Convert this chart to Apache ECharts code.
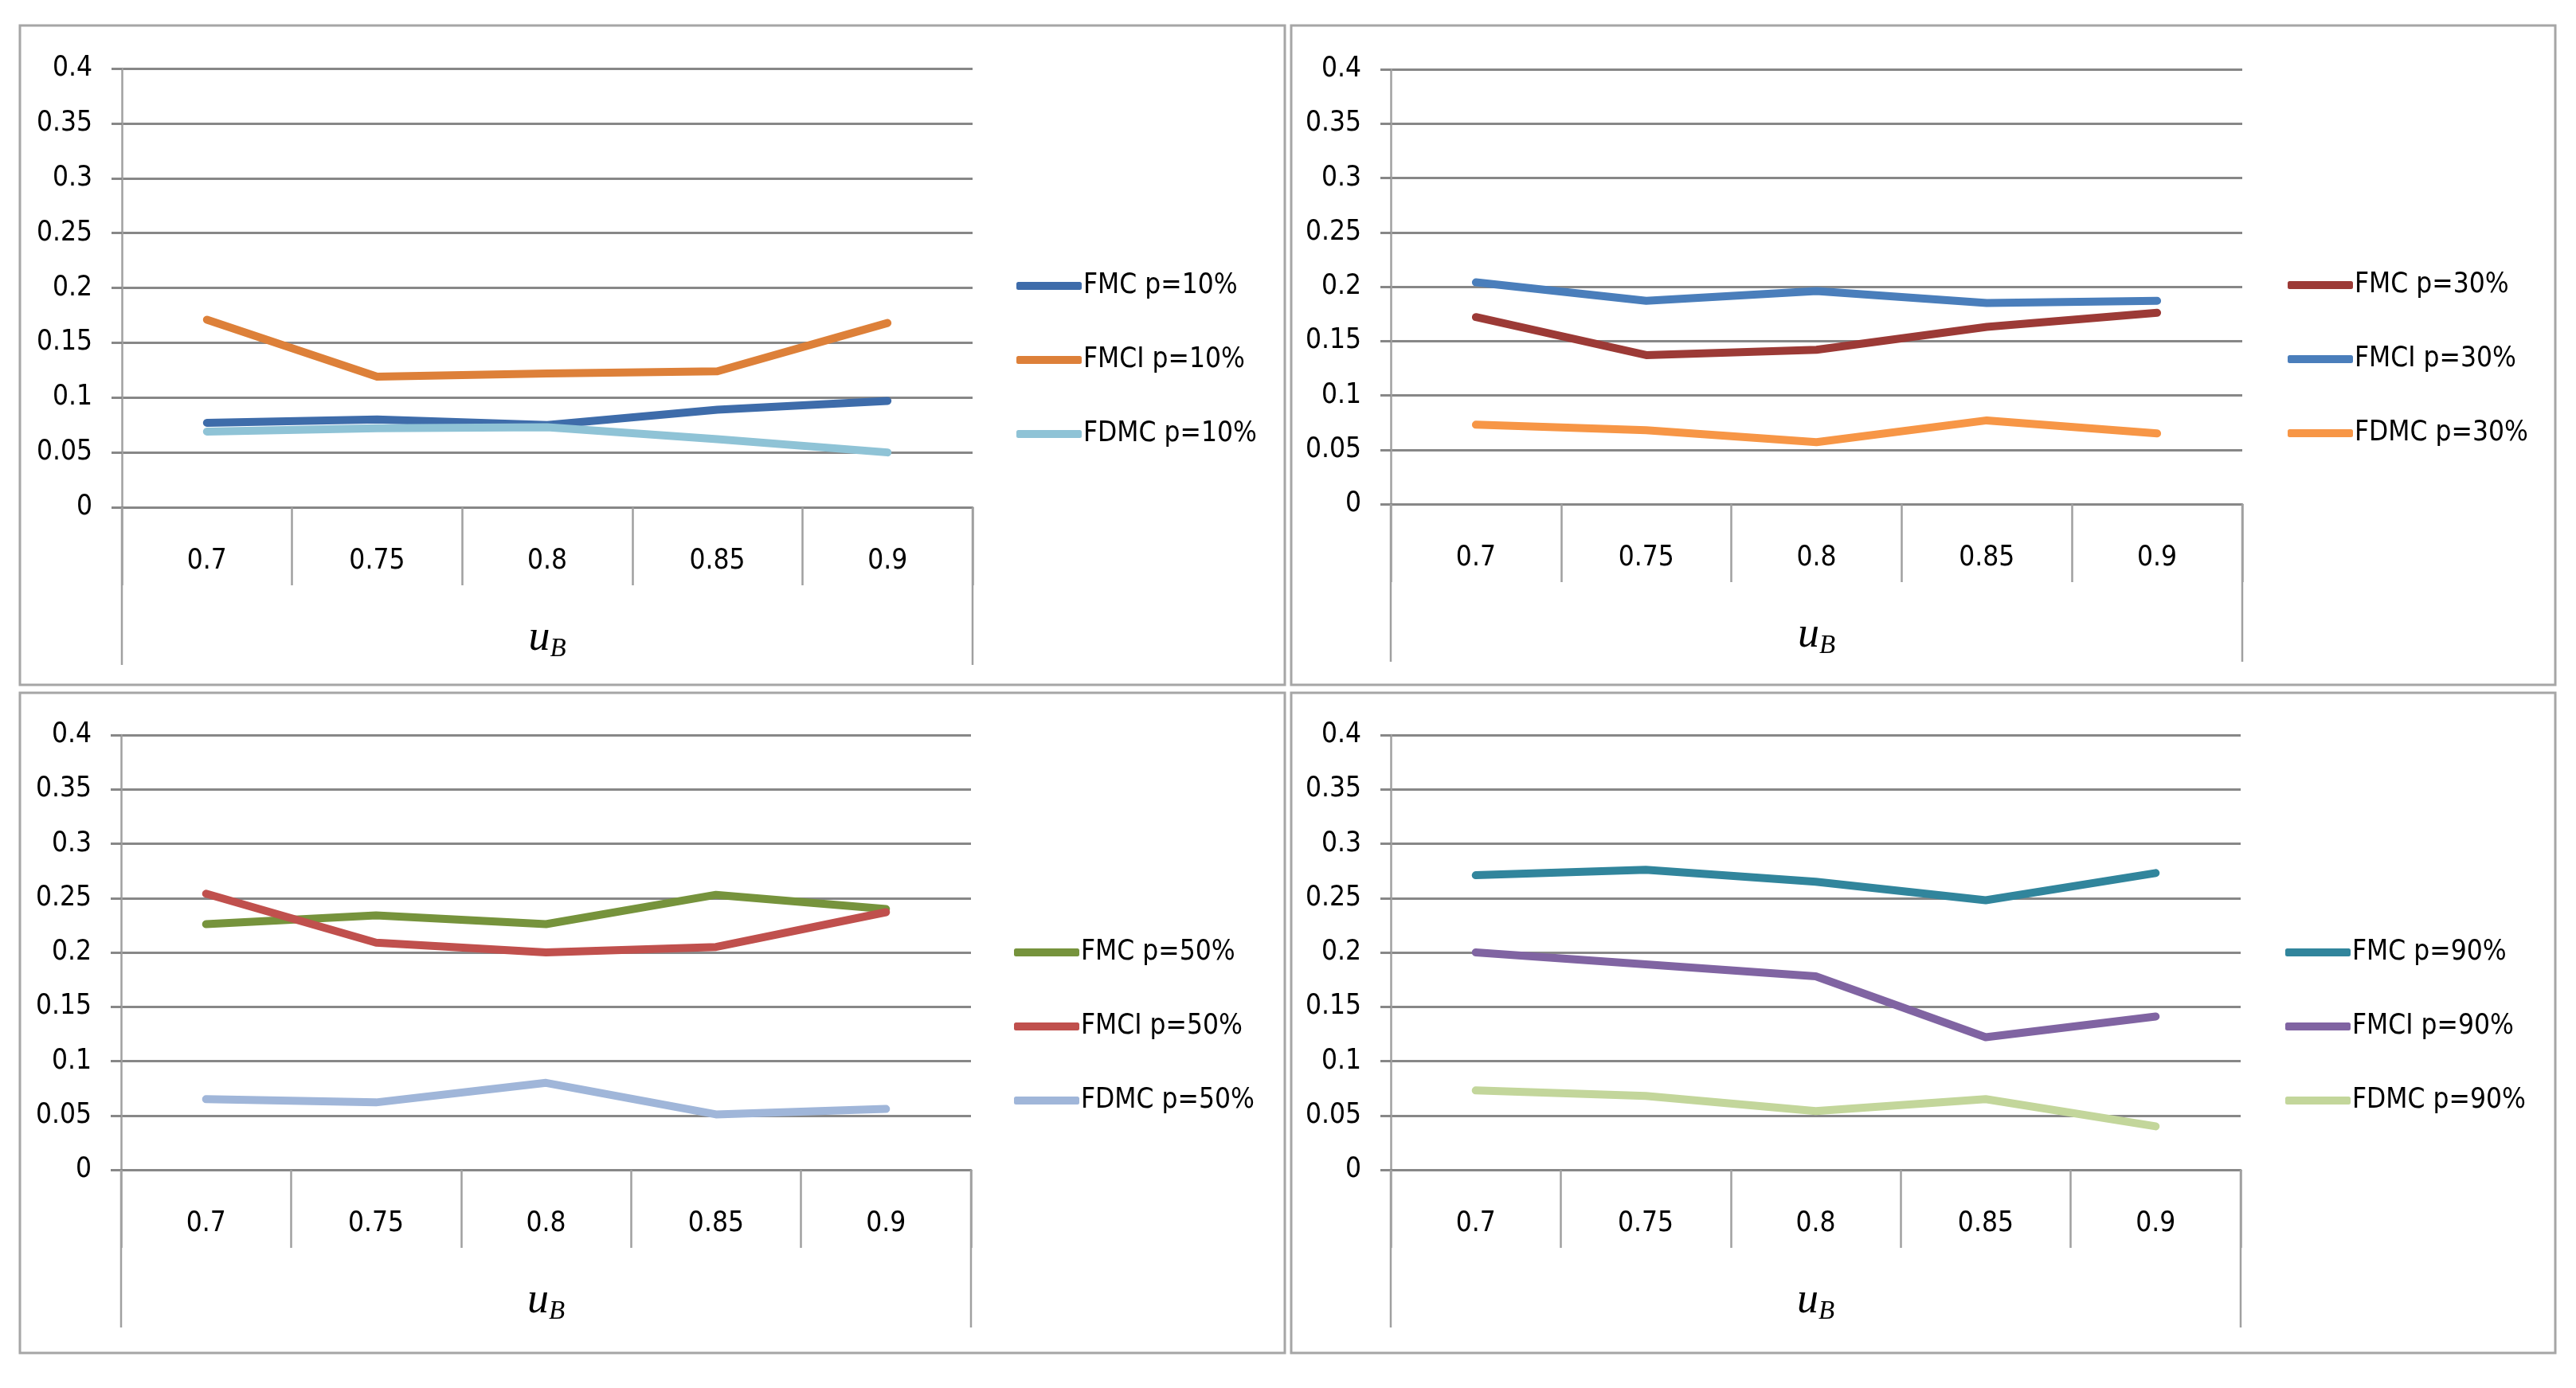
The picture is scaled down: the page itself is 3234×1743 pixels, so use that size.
<!DOCTYPE html>
<html>
<head>
<meta charset="utf-8">
<script src="https://cdn.jsdelivr.net/npm/echarts@6/dist/echarts.min.js"></script>
<style>
html,body{margin:0;padding:0;background:#fff;}
#c{width:3234px;height:1743px;}
</style>
</head>
<body>
<div id="c"></div>
<script>
// ---- data ----
const categories = ['0.7', '0.75', '0.8', '0.85', '0.9'];

const fmc10  = [0.077, 0.080, 0.075, 0.089, 0.097];
const fmci10 = [0.171, 0.119, 0.122, 0.124, 0.168];
const fdmc10 = [0.069, 0.072, 0.073, 0.062, 0.050];

const fmc30  = [0.172, 0.137, 0.142, 0.163, 0.176];
const fmci30 = [0.204, 0.187, 0.196, 0.185, 0.187];
const fdmc30 = [0.073, 0.068, 0.057, 0.077, 0.065];

const fmc50  = [0.226, 0.234, 0.226, 0.253, 0.240];
const fmci50 = [0.254, 0.209, 0.200, 0.205, 0.237];
const fdmc50 = [0.065, 0.062, 0.080, 0.051, 0.056];

const fmc90  = [0.271, 0.276, 0.265, 0.248, 0.273];
const fmci90 = [0.200, 0.189, 0.178, 0.122, 0.141];
const fdmc90 = [0.073, 0.068, 0.054, 0.065, 0.040];

const panelNames = [
  ['FMC p=10%', 'FMCI p=10%', 'FDMC p=10%'],
  ['FMC p=30%', 'FMCI p=30%', 'FDMC p=30%'],
  ['FMC p=50%', 'FMCI p=50%', 'FDMC p=50%'],
  ['FMC p=90%', 'FMCI p=90%', 'FDMC p=90%']
];
const panelData = [
  [fmc10, fmci10, fdmc10],
  [fmc30, fmci30, fdmc30],
  [fmc50, fmci50, fdmc50],
  [fmc90, fmci90, fdmc90]
];
const yMin = 0, yMax = 0.4, yStep = 0.05;

// ---- styles / layout ----
const panelColors = [
  ['#3E6CAA', '#DD8039', '#8FC3D6'],
  ['#9C3A36', '#4A7EBB', '#F79646'],
  ['#76933C', '#C0504D', '#A0B6D9'],
  ['#31859C', '#8064A2', '#C3D69B']
];
const grids = [
  {left: 153,  top: 86,  width: 1068, height: 551},
  {left: 1746, top: 87,  width: 1069, height: 546},
  {left: 152,  top: 923, width: 1067, height: 546},
  {left: 1746, top: 923, width: 1067, height: 546}
];
const legendPos = [
  {left: 1276, top: 338},
  {left: 2872, top: 337},
  {left: 1273, top: 1175},
  {left: 2869, top: 1175}
];
const boxes = [
  {x: 25,   y: 32,  w: 1588, h: 828},
  {x: 1621, y: 32,  w: 1587, h: 828},
  {x: 25,   y: 870, w: 1588, h: 829},
  {x: 1621, y: 870, w: 1587, h: 829}
];
const FONT = "'Liberation Sans Narrow', 'Arial Narrow', 'DejaVu Sans Condensed', 'Liberation Sans', sans-serif";
const SERIF = "'Liberation Serif', 'DejaVu Serif', serif";
const gridColor = '#878787';
const axisColor = '#a0a0a0';
const extDrop = 198;

const option = {
  animation: false,
  backgroundColor: '#ffffff',
  grid: grids.map(g => Object.assign({containLabel: false}, g)),
  xAxis: grids.map((g, i) => ({
    type: 'category',
    gridIndex: i,
    data: categories,
    boundaryGap: true,
    axisLine: {show: true, lineStyle: {color: gridColor, width: 3}},
    axisTick: {show: true, inside: false, length: 98, alignWithLabel: false,
               lineStyle: {color: axisColor, width: 2.5}},
    axisLabel: {show: true, margin: 50, color: '#000', fontFamily: FONT, fontSize: 35},
    splitLine: {show: false},
    name: '{u|u}{b|B}',
    nameLocation: 'middle',
    nameGap: 138,
    nameTextStyle: {
      rich: {
        u: {fontFamily: SERIF, fontStyle: 'italic',
            fontSize: 54, color: '#000', verticalAlign: 'top', lineHeight: 60},
        b: {fontFamily: SERIF, fontStyle: 'italic',
            fontSize: 33, color: '#000', verticalAlign: 'top', lineHeight: 60, padding: [24, 0, 0, 0]}
      }
    }
  })),
  yAxis: grids.map((g, i) => ({
    type: 'value',
    gridIndex: i,
    min: yMin, max: yMax, interval: yStep,
    axisLine: {show: true, lineStyle: {color: axisColor, width: 2.5}},
    axisTick: {show: true, length: 13, lineStyle: {color: gridColor, width: 3}},
    axisLabel: {show: true, margin: 37, color: '#000', fontFamily: FONT, fontSize: 35},
    splitLine: {show: true, lineStyle: {color: gridColor, width: 3}}
  })),
  legend: legendPos.map((p, i) => ({
    left: p.left, top: p.top,
    orient: 'vertical',
    data: panelNames[i],
    icon: 'roundRect',
    itemWidth: 82, itemHeight: 10,
    itemGap: 51,
    padding: 0,
    textStyle: {fontFamily: FONT, fontSize: 35, color: '#000', lineHeight: 42, padding: [0, 0, 0, -3]},
    selectedMode: false
  })),
  series: [],
  graphic: []
};

panelData.forEach((arrs, i) => {
  arrs.forEach((d, j) => {
    option.series.push({
      type: 'line',
      name: panelNames[i][j],
      xAxisIndex: i, yAxisIndex: i,
      data: d,
      showSymbol: false,
      symbol: 'none',
      lineStyle: {color: panelColors[i][j], width: 10, cap: 'round', join: 'round'},
      itemStyle: {color: panelColors[i][j]},
      z: 3 + j
    });
  });
});

boxes.forEach(b => {
  option.graphic.push({
    type: 'rect', silent: true, z: 0,
    shape: {x: b.x, y: b.y, width: b.w, height: b.h},
    style: {fill: 'none', stroke: '#a6a6a6', lineWidth: 3}
  });
});
grids.forEach(g => {
  const y0 = g.top + g.height;
  [g.left, g.left + g.width].forEach(x => {
    option.graphic.push({
      type: 'line', silent: true, z: 1,
      shape: {x1: x, y1: y0, x2: x, y2: y0 + extDrop},
      style: {stroke: axisColor, lineWidth: 2.5}
    });
  });
});

const chart = echarts.init(document.getElementById('c'), null, {renderer: 'canvas', width: 3234, height: 1743, devicePixelRatio: 1});
chart.setOption(option);
</script>
</body>
</html>
